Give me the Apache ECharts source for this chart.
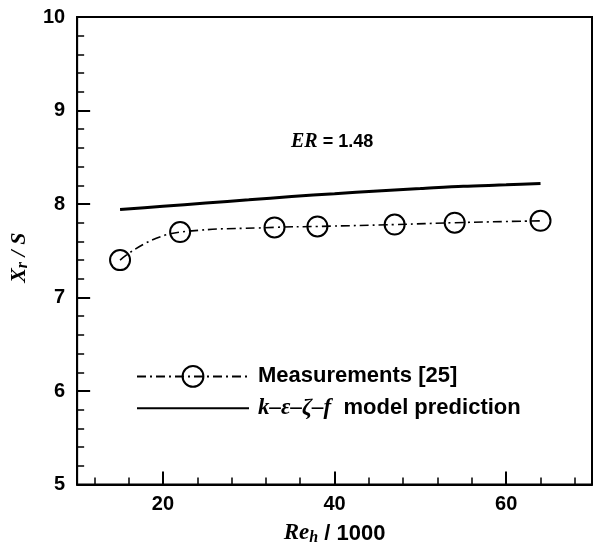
<!DOCTYPE html>
<html>
<head>
<meta charset="utf-8">
<script src="https://cdn.jsdelivr.net/npm/echarts@6/dist/echarts.min.js"></script>
<style>html,body{margin:0;padding:0;background:#fff}#c{width:597px;height:552px}</style>
</head>
<body>
<div id="c"></div>
<script>
const measReh = [15, 22, 33, 38, 47, 54, 64];
const measXr = [7.40, 7.70, 7.75, 7.76, 7.78, 7.80, 7.82];
const modelReh = [15, 20, 25, 30, 35, 40, 45, 50, 55, 60, 64];
const modelXr = [7.94, 7.975, 8.01, 8.045, 8.08, 8.11, 8.14, 8.165, 8.19, 8.205, 8.22];
const xMajorTicks = [20, 40, 60];
const xMinorTicks = [12, 16, 24, 28, 32, 36, 44, 48, 52, 56, 64, 68];
const seriesNames = ['Measurements [25]', 'k–ε–ζ–f model prediction'];

const chart = echarts.init(document.getElementById('c'), null, {renderer: 'canvas'});
const sans = 'Liberation Sans';
const serif = 'Liberation Serif';
const black = '#000';

chart.setOption({
  animation: false,
  backgroundColor: '#fff',
  grid: {left: 73, right: 5, top: 17, bottom: 60, show: true, borderColor: black, borderWidth: 2, containLabel: false},
  title: {
    text: '{i|ER}{n| = 1.48}',
    left: 286, top: 127,
    textStyle: {
      rich: {
        i: {fontFamily: serif, fontStyle: 'italic', fontWeight: 'bold', fontSize: 20, color: black},
        n: {fontFamily: sans, fontWeight: 'bold', fontSize: 18, color: black}
      }
    }
  },
  legend: {
    orient: 'vertical',
    left: 131, top: 360,
    itemWidth: 112, itemHeight: 26, itemGap: 9,
    data: seriesNames,
    formatter: function (name) {
      if (name === seriesNames[0]) return '{s|' + name + '}';
      return '{m|k–ε–ζ–f}{s|  model prediction}';
    },
    textStyle: {
      padding: [0, 0, 0, 4],
      rich: {
        s: {fontFamily: sans, fontWeight: 'bold', fontSize: 22, color: black},
        m: {fontFamily: serif, fontStyle: 'italic', fontWeight: 'bold', fontSize: 23, color: black}
      }
    }
  },
  xAxis: [{
    type: 'value', min: 10, max: 70,
    name: '{i|Re}{b|h}{n| / 1000}',
    nameLocation: 'middle', nameGap: 39,
    nameTextStyle: {
      rich: {
        i: {fontFamily: serif, fontStyle: 'italic', fontWeight: 'bold', fontSize: 23, color: black, lineHeight: 22, padding: [0, 0, 2, 0]},
        b: {fontFamily: serif, fontStyle: 'italic', fontWeight: 'bold', fontSize: 16, color: black, lineHeight: 12, verticalAlign: 'bottom'},
        n: {fontFamily: sans, fontWeight: 'bold', fontSize: 22, color: black, lineHeight: 22, padding: [0, 0, 2, 0]}
      }
    },
    axisLine: {show: true, onZero: false, lineStyle: {color: black, width: 2}},
    axisTick: {show: true, inside: true, length: 13, lineStyle: {color: black, width: 2}, customValues: xMajorTicks},
    axisLabel: {show: true, margin: 10, color: black, fontFamily: sans, fontWeight: 'bold', fontSize: 20, customValues: xMajorTicks},
    splitLine: {show: false}
  }, {
    type: 'value', min: 10, max: 70, position: 'bottom',
    axisLine: {show: false},
    axisTick: {show: true, inside: true, length: 7, lineStyle: {color: black, width: 1.5}, customValues: xMinorTicks},
    axisLabel: {show: false},
    splitLine: {show: false}
  }],
  yAxis: {
    type: 'value', min: 5, max: 10, interval: 1,
    name: '{i|X}{b|r}{n| / }{i|S}',
    nameLocation: 'middle', nameGap: 30, nameRotate: 90,
    nameTextStyle: {
      padding: [0, 14, 0, 0],
      rich: {
        i: {fontFamily: serif, fontStyle: 'italic', fontWeight: 'bold', fontSize: 22, color: black, lineHeight: 22, padding: [0, 0, 2, 0]},
        b: {fontFamily: serif, fontStyle: 'italic', fontWeight: 'bold', fontSize: 16, color: black, lineHeight: 12, verticalAlign: 'bottom'},
        n: {fontFamily: serif, fontStyle: 'italic', fontWeight: 'bold', fontSize: 22, color: black, lineHeight: 22, padding: [0, 0, 2, 0]}
      }
    },
    axisLine: {show: true, onZero: false, lineStyle: {color: black, width: 2}},
    axisTick: {show: true, inside: true, length: 13, lineStyle: {color: black, width: 2}},
    minorTick: {show: true, splitNumber: 5, length: 7, lineStyle: {color: black, width: 1.5}},
    axisLabel: {show: true, margin: 12, color: black, fontFamily: sans, fontWeight: 'bold', fontSize: 20},
    splitLine: {show: false}
  },
  series: [{
    name: seriesNames[0],
    type: 'line',
    xAxisIndex: 0,
    data: measReh.map((x, i) => [x, measXr[i]]),
    smooth: 0.5,
    symbol: 'circle', symbolSize: 20,
    itemStyle: {color: 'rgba(0,0,0,0)', borderColor: black, borderWidth: 2},
    lineStyle: {color: black, width: 1.6, type: [9, 4, 2, 4]},
    z: 3
  }, {
    name: seriesNames[1],
    type: 'line',
    xAxisIndex: 0,
    data: modelReh.map((x, i) => [x, modelXr[i]]),
    smooth: 0.3,
    symbol: 'none',
    itemStyle: {color: 'rgba(0,0,0,0)', borderWidth: 0},
    lineStyle: {color: black, width: 3},
    z: 2
  }]
});
</script>
</body>
</html>
